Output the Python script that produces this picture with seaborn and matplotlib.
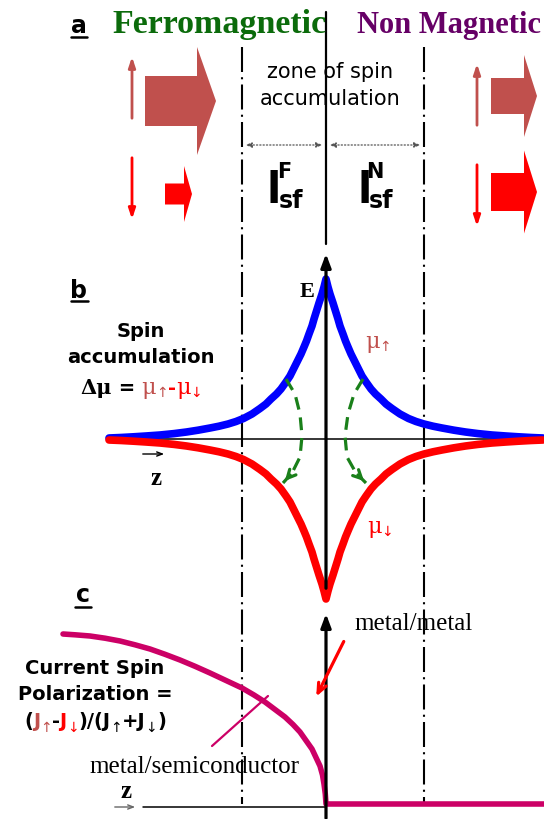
import matplotlib
matplotlib.use("Agg")
import matplotlib.pyplot as plt
import seaborn as sns

# ---- data (image pixel units, y grows downward) ----
# panel b: spin accumulation profile, right half (distance from interface, height above zero)
z_half = [0, 2, 4, 7, 9.5, 12, 14, 17, 19.5, 22, 25, 29, 32.5, 36, 40, 45, 49.5, 55, 60, 66,
          74, 82.5, 90, 98, 107, 116, 128, 139.5, 152, 166, 180, 192.5, 205, 217]
mu_half = [160, 152, 145, 136, 128, 120, 113, 105, 98, 92, 85, 77, 70, 63, 57, 50, 45, 40, 35, 30.5,
           25, 20.5, 17.5, 15, 12.8, 11, 8.8, 7, 5.4, 4, 3, 2.2, 1.5, 1]

# panel c: current spin polarization (metal/semiconductor branch, then flat part)
pol_x = [63, 75, 90, 105, 120, 135, 150, 165, 180, 195, 210, 226, 242, 254, 265, 275, 285, 293,
         300, 306, 312, 316, 320, 322.5, 324, 325.3, 326, 544]
pol_y = [635, 635.8, 637, 639.2, 642, 645.8, 650, 655.3, 661, 667.3, 674, 681.5, 689, 696, 703,
         710.5, 718, 725.5, 733, 741.5, 750, 758.5, 767, 776, 785, 795, 805, 805]

# green spin-flip arcs
arc_left_x = [286, 295, 300, 302, 300, 292, 283]
arc_left_y = [380, 395, 415, 437, 458, 474, 484]
arc_right_x = [363, 354, 348, 345, 347, 356, 366]
arc_right_y = [380, 395, 415, 437, 458, 474, 484]

X0 = 326      # interface
Y_B = 440     # zero line panel b
X_F, X_N = 242, 424   # spin diffusion lengths

BROWN = "#C0504D"
RED = "#FF0000"
BLUE = "#0000FF"
GREEN = "#1A801A"
MAG = "#CC0066"

sns.set_style("white")
plt.rcParams["text.color"] = "black"
fig = plt.figure(figsize=(5.44, 8.2), dpi=100)
ax = fig.add_axes([0, 0, 1, 1])
ax.set_xlim(0, 544)
ax.set_ylim(820, 0)
ax.axis("off")
R = fig.canvas.get_renderer()

SANS = "DejaVu Sans"
SERIF = "Liberation Serif"


def colored_text(x, y, parts, ha="center"):
    items, cur = [], 0
    for s, color, size, dy, weight, fam in parts:
        t = ax.text(x + cur, y + dy, s, color=color, fontsize=size, fontweight=weight,
                    family=fam, va="baseline", ha="left")
        items.append(t)
        cur += t.get_window_extent(R).width
    if ha == "center":
        for t in items:
            px, py = t.get_position()
            t.set_x(px - cur / 2)


# ---- vertical guide lines ----
for xv in (X_F, X_N):
    ax.plot([xv, xv], [48, 805], color="black", lw=1.5, dashes=(12, 2.5, 1, 2.5))
ax.plot([X0, X0], [13, 245], color="black", lw=1.6)
ax.annotate("", xy=(X0, 252), xytext=(X0, 592),
            arrowprops=dict(arrowstyle="-|>,head_length=0.8,head_width=0.3", lw=2.3, color="black"))
ax.annotate("", xy=(X0, 612), xytext=(X0, 822),
            arrowprops=dict(arrowstyle="-|>,head_length=0.8,head_width=0.3", lw=2.3, color="black"))

# ---- panel a ----
ax.text(79, 33, "a", fontsize=17, fontweight="bold", family=SANS, ha="center", va="baseline")
ax.plot([71, 87], [37.5, 37.5], color="black", lw=1.8)
ax.text(112, 33, "Ferromagnetic", fontsize=24.5, fontweight="bold", family=SERIF,
        color="#0B6B0B", ha="left", va="baseline")
ax.text(357, 33, "Non Magnetic", fontsize=22, fontweight="bold", family=SERIF,
        color="#660066", ha="left", va="baseline")

ax.text(330, 78, "zone of spin", fontsize=15, family=SANS, ha="center", va="baseline")
ax.text(330, 105, "accumulation", fontsize=15, family=SANS, ha="center", va="baseline")

for xa, xb in ((X_F, X0), (X0, X_N)):
    ax.annotate("", xy=(xa + 1, 146), xytext=(xb - 1, 146),
                arrowprops=dict(arrowstyle="<|-|>,head_length=0.35,head_width=0.15",
                                lw=0.9, ls=":", color="#555555"))

for xc, sup in ((273.5, "F"), (364.5, "N")):
    ax.text(xc, 203, "l", fontsize=30, fontweight="bold", family=SANS, ha="center", va="baseline")
    ax.text(xc + 10.5, 178, sup, fontsize=15, fontweight="bold", family=SANS, ha="center", va="baseline")
    ax.text(xc + 17, 208, "sf", fontsize=17, fontweight="bold", family=SANS, ha="center", va="baseline")

# spin channels: thin spin arrows + block current arrows
for xs, up_top, up_bot, dn_top, dn_bot in ((132, 55, 122, 156, 223), (477, 62, 129, 163, 230)):
    ax.annotate("", xy=(xs, up_top), xytext=(xs, up_bot),
                arrowprops=dict(arrowstyle="-|>,head_length=0.6,head_width=0.2", lw=2, color=BROWN))
    ax.annotate("", xy=(xs, dn_bot), xytext=(xs, dn_top),
                arrowprops=dict(arrowstyle="-|>,head_length=0.6,head_width=0.2", lw=2, color=RED))

# (x start, y centre, length, body width, head width, head length, colour)
blocks = [
    (145, 102, 71, 50, 108, 19, BROWN),
    (165, 195, 27, 21, 56, 8, RED),
    (491, 97, 46, 36, 82, 13, BROWN),
    (491, 193, 46, 38, 83, 13, RED),
]
for xs, yc, ln, bw, hw, hl, col in blocks:
    ax.arrow(xs, yc, ln, 0, width=bw, head_width=hw, head_length=hl,
             length_includes_head=True, color=col, lw=0)

# ---- panel b ----
ax.text(79, 298, "b", fontsize=17, fontweight="bold", family=SANS, ha="center", va="baseline")
ax.plot([71, 88], [302, 302], color="black", lw=1.8)
ax.text(307, 297, "E", fontsize=16, fontweight="bold", family=SERIF, ha="center", va="baseline")

ax.plot([150, 544], [Y_B, Y_B], color="black", lw=1.1)
ax.annotate("", xy=(167, 455), xytext=(140, 455),
            arrowprops=dict(arrowstyle="->,head_length=0.4,head_width=0.15", lw=1, color="black"))
ax.text(156, 485, "z", fontsize=18, fontweight="bold", family=SERIF, ha="center", va="baseline")

z_full = [X0 - v for v in reversed(z_half)] + [X0 + v for v in z_half[1:]]
mu_full = list(reversed(mu_half)) + mu_half[1:]
sns.lineplot(x=z_full, y=[Y_B - m for m in mu_full], ax=ax, color=BLUE, lw=5.5,
             estimator=None, sort=False, solid_capstyle="round")
sns.lineplot(x=z_full, y=[Y_B + m for m in mu_full], ax=ax, color=RED, lw=5.5,
             estimator=None, sort=False, solid_capstyle="round")

for ax_x, ax_y in ((arc_left_x, arc_left_y), (arc_right_x, arc_right_y)):
    sns.lineplot(x=ax_x, y=ax_y, ax=ax, color=GREEN, lw=2.3, estimator=None, sort=False,
                 dashes=False, linestyle=(0, (4, 2.5)))
    ax.annotate("", xy=(ax_x[-1], ax_y[-1]), xytext=(ax_x[-2], ax_y[-2]),
                arrowprops=dict(arrowstyle="->,head_length=0.6,head_width=0.3", lw=2.3, color=GREEN))

ax.text(141, 337, "Spin", fontsize=14, fontweight="bold", family=SANS, ha="center", va="baseline")
ax.text(141, 363, "accumulation", fontsize=14, fontweight="bold", family=SANS, ha="center", va="baseline")
colored_text(141, 394, [
    ("Δμ", "black", 15, 0, "bold", "DejaVu Serif"),
    (" = ", "black", 14, 0, "bold", SANS),
    ("μ", BROWN, 16, 0, "normal", "DejaVu Serif"),
    ("↑", BROWN, 10, 3, "normal", SANS),
    ("-", RED, 14, 0, "bold", SANS),
    ("μ", RED, 16, 0, "normal", "DejaVu Serif"),
    ("↓", RED, 10, 3, "normal", SANS),
])
colored_text(378, 348, [("μ", BROWN, 16, 0, "normal", "DejaVu Serif"),
                        ("↑", BROWN, 10, 3, "normal", SANS)])
colored_text(380, 533, [("μ", RED, 16, 0, "normal", "DejaVu Serif"),
                        ("↓", RED, 10, 3, "normal", SANS)])

# ---- panel c ----
ax.text(83, 602, "c", fontsize=17, fontweight="bold", family=SANS, ha="center", va="baseline")
ax.plot([75, 91], [607.5, 607.5], color="black", lw=1.8)

ax.plot([143, X0], [808, 808], color="black", lw=1.1)
ax.annotate("", xy=(138, 808), xytext=(112, 808),
            arrowprops=dict(arrowstyle="->,head_length=0.4,head_width=0.15", lw=1, color="#666666"))
ax.text(126, 798, "z", fontsize=18, fontweight="bold", family=SERIF, ha="center", va="baseline")

sns.lineplot(x=pol_x, y=pol_y, ax=ax, color=MAG, lw=4, estimator=None, sort=False)

ax.text(95, 674, "Current Spin", fontsize=14, fontweight="bold", family=SANS, ha="center", va="baseline")
ax.text(95, 700, "Polarization =", fontsize=14, fontweight="bold", family=SANS, ha="center", va="baseline")
colored_text(95, 727, [
    ("(", "black", 14, 0, "bold", SANS),
    ("J", BROWN, 14, 0, "bold", SANS),
    ("↑", BROWN, 10, 5, "normal", SANS),
    ("-", "black", 14, 0, "bold", SANS),
    ("J", RED, 14, 0, "bold", SANS),
    ("↓", RED, 10, 5, "normal", SANS),
    (")/(J", "black", 14, 0, "bold", SANS),
    ("↑", "black", 10, 5, "normal", SANS),
    ("+J", "black", 14, 0, "bold", SANS),
    ("↓", "black", 10, 5, "normal", SANS),
    (")", "black", 14, 0, "bold", SANS),
])

ax.text(414, 630, "metal/metal", fontsize=18, family=SERIF, ha="center", va="baseline")
ax.annotate("", xy=(315, 700), xytext=(345, 640),
            arrowprops=dict(arrowstyle="->,head_length=0.7,head_width=0.3", lw=2.3, color=RED))
ax.plot([212, 268], [747, 697], color=MAG, lw=1.6)
ax.text(194, 773, "metal/semiconductor", fontsize=18, family=SERIF, ha="center", va="baseline")

fig.savefig("out.png", dpi=100)
